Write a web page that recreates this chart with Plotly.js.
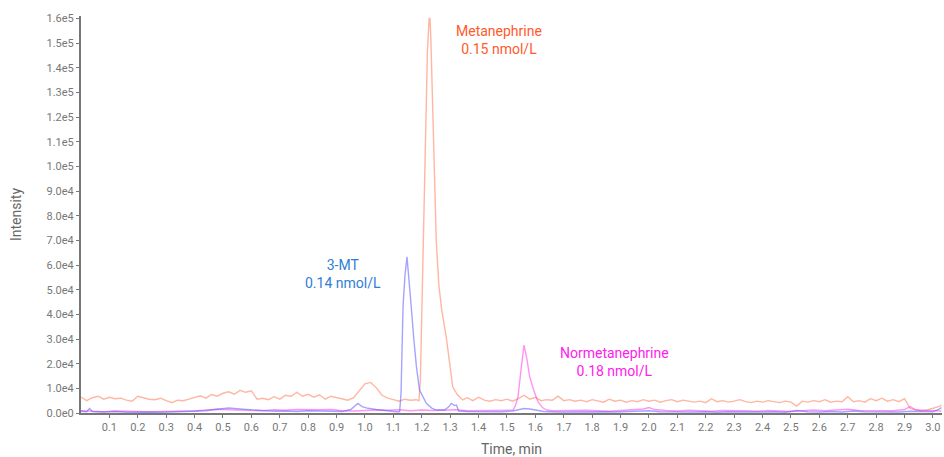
<!DOCTYPE html>
<html>
<head>
<meta charset="utf-8">
<script src="https://cdn.plot.ly/plotly-3.0.1.min.js"></script>
<style>html,body{margin:0;padding:0;background:#fff;}#chart{width:944px;height:457px;}</style>
</head>
<body>
<div id="chart"></div>
<script>
// Metanephrine (orange)
const metT = [0.00,0.02,0.04,0.06,0.08,0.10,0.12,0.14,0.16,0.18,0.20,0.22,0.24,0.26,0.28,0.30,0.32,0.34,0.36,0.38,0.40,0.42,0.44,0.46,0.48,0.50,0.52,0.54,0.56,0.58,0.60,0.62,0.64,0.66,0.68,0.70,0.72,0.74,0.76,0.78,0.80,0.82,0.84,0.86,0.88,0.90,0.92,0.94,0.96,0.98,1.00,1.02,1.04,1.06,1.08,1.10,1.12,1.14,1.16,1.18,
  1.19,1.195,1.200,1.204,1.210,1.215,1.220,1.226,1.229,1.232,1.237,1.242,1.251,1.260,1.270,1.286,1.298,1.309,1.325,1.344,
  1.36,1.38,1.40,1.42,1.44,1.46,1.48,1.50,1.52,1.54,1.56,1.58,1.60,1.62,1.64,1.66,1.68,1.70,1.72,1.74,1.76,1.78,1.80,1.82,1.84,1.86,1.88,1.90,1.92,1.94,1.96,1.98,2.00,2.02,2.04,2.06,2.08,2.10,2.12,2.14,2.16,2.18,2.20,2.22,2.24,2.26,2.28,2.30,2.32,2.34,2.36,2.38,2.40,2.42,2.44,2.46,2.48,2.50,2.52,2.54,2.56,2.58,2.60,2.62,2.64,2.66,2.68,2.70,2.72,2.74,2.76,2.78,2.80,2.82,2.84,2.86,2.88,2.90,2.92,2.94,2.96,2.98,3.00,3.02,3.03];
const metI = [6500,5000,6200,6800,5600,6400,5800,6000,5200,4800,6800,6200,5600,5400,6000,5000,4200,5200,5000,5600,6400,7000,6000,7500,6800,8000,8600,7600,9200,8400,9000,5600,6000,5400,6600,5600,7200,6800,8400,6800,7600,6400,7400,5600,6800,6200,5600,5200,6200,9000,11800,12400,10200,7200,6000,5400,4800,5600,5200,5400,
  5000,13000,40000,70000,100000,130000,147000,160000,160000,152000,132000,115000,70000,52000,42000,31000,19000,10600,7500,5300,
  6200,5000,6400,5200,4800,5400,5000,5600,4800,5800,7200,5600,6400,5000,5400,5200,6800,5000,5400,4800,5200,4600,5400,5000,4400,5600,4800,5200,4400,5000,4600,5400,4800,5200,4400,5000,5400,4600,5200,4800,4400,4800,4200,5800,4600,5000,4400,4800,5400,4600,4200,4800,4400,5000,4600,4200,4800,4400,2800,4800,4400,5000,4600,5400,4400,4800,4600,6600,4600,5000,4400,5800,5000,6000,4800,5400,4600,5800,1800,1400,800,1200,1800,2600,3200];

// 3-MT (blue)
const mtT = [0.00,0.02,0.03,0.04,0.08,0.12,0.16,0.20,0.24,0.28,0.32,0.36,0.40,0.44,0.48,0.52,0.56,0.60,0.64,0.68,0.72,0.76,0.80,0.84,0.88,0.92,0.95,0.975,0.99,1.01,1.04,1.08,1.11,1.122,1.127,1.134,1.141,1.148,1.155,1.163,1.172,1.181,1.192,1.205,1.216,1.235,1.251,1.28,1.295,1.304,1.315,1.322,1.33,1.36,1.40,1.44,1.48,1.52,1.54,1.56,1.58,1.60,1.63,1.68,1.72,1.76,1.80,1.84,1.88,1.92,1.96,2.00,2.04,2.08,2.12,2.16,2.20,2.24,2.28,2.32,2.36,2.40,2.44,2.48,2.52,2.56,2.60,2.64,2.68,2.72,2.76,2.80,2.84,2.88,2.92,2.96,3.00,3.02,3.03];
const mtI = [700,500,1800,600,400,600,300,500,400,300,500,400,700,900,1500,2000,1600,1200,900,700,800,600,900,700,800,600,1400,3900,2600,1900,1400,800,500,500,8000,43000,56000,63300,55000,43000,30000,19000,9300,6000,3900,2000,1200,1200,2500,3900,3000,3200,800,600,500,700,500,800,1400,1800,1600,1200,600,400,500,400,600,500,400,600,500,900,500,400,600,400,500,300,500,400,600,400,500,300,1000,500,400,600,400,800,500,400,600,400,700,500,500,1500,2200];

// Normetanephrine (pink)
const nmT = [0.00,0.04,0.08,0.12,0.16,0.20,0.24,0.28,0.32,0.36,0.40,0.44,0.48,0.52,0.56,0.60,0.64,0.68,0.72,0.76,0.80,0.84,0.88,0.92,0.96,1.00,1.04,1.08,1.12,1.16,1.20,1.24,1.28,1.32,1.36,1.40,1.44,1.48,1.51,1.521,1.53,1.539,1.55,1.56,1.57,1.58,1.595,1.609,1.625,1.639,1.66,1.70,1.74,1.78,1.82,1.86,1.90,1.94,1.98,2.00,2.02,2.06,2.10,2.14,2.18,2.22,2.26,2.30,2.34,2.38,2.42,2.46,2.50,2.54,2.58,2.62,2.66,2.70,2.74,2.78,2.82,2.86,2.90,2.92,2.94,2.98,3.03];
const nmI = [900,700,500,800,600,700,500,600,700,500,800,1200,1500,1300,1100,800,900,1300,1100,1400,1200,1300,1400,900,800,1000,1200,1100,1300,900,1200,1000,1100,1300,900,1000,1100,900,1000,1200,3000,6600,18000,27500,22000,14700,9000,4600,2200,1200,900,1000,800,1100,900,700,1000,1200,1600,2200,1400,1000,800,1100,900,700,1000,800,900,700,1000,800,600,900,1200,900,1100,1500,1000,900,1100,900,1400,2600,1200,900,800];

const xTickVals = [0.1,0.2,0.3,0.4,0.5,0.6,0.7,0.8,0.9,1.0,1.1,1.2,1.3,1.4,1.5,1.6,1.7,1.8,1.9,2.0,2.1,2.2,2.3,2.4,2.5,2.6,2.7,2.8,2.9,3.0];
const xTickText = ["0.1","0.2","0.3","0.4","0.5","0.6","0.7","0.8","0.9","1.0","1.1","1.2","1.3","1.4","1.5","1.6","1.7","1.8","1.9","2.0","2.1","2.2","2.3","2.4","2.5","2.6","2.7","2.8","2.9","3.0"];
const yTickVals = [0,10000,20000,30000,40000,50000,60000,70000,80000,90000,100000,110000,120000,130000,140000,150000,160000];
const yTickText = ["0.0e0","1.0e4","2.0e4","3.0e4","4.0e4","5.0e4","6.0e4","7.0e4","8.0e4","9.0e4","1.0e5","1.1e5","1.2e5","1.3e5","1.4e5","1.5e5","1.6e5"];

const labels = [
  {name: "Metanephrine", conc: "0.15 nmol/L", color: "#FF5A2C", x: 1.473, y: 151300},
  {name: "3-MT", conc: "0.14 nmol/L", color: "#2F7ED6", x: 0.924, y: 56400},
  {name: "Normetanephrine", conc: "0.18 nmol/L", color: "#FF20EC", x: 1.878, y: 20700}
];

const traces = [
  {x: metT, y: metI, type: "scatter", mode: "lines", name: "Metanephrine",
   line: {color: "rgba(255,110,70,0.5)", width: 1.4}},
  {x: nmT, y: nmI, type: "scatter", mode: "lines", name: "Normetanephrine",
   line: {color: "rgba(255,60,235,0.55)", width: 1.4}},
  {x: mtT, y: mtI, type: "scatter", mode: "lines", name: "3-MT",
   line: {color: "rgba(90,90,255,0.55)", width: 1.4}}
];

const layout = {
  width: 944, height: 457,
  margin: {l: 81, r: 2, t: 16, b: 44},
  paper_bgcolor: "#fff", plot_bgcolor: "#fff",
  showlegend: false,
  font: {family: "Roboto, 'Noto Sans', sans-serif", color: "#777"},
  xaxis: {
    range: [0, 3.032], showgrid: false, zeroline: false,
    showline: true, linecolor: "#777", linewidth: 2,
    ticks: "outside", ticklen: 3, tickcolor: "#777", tickwidth: 1,
    tickvals: xTickVals, ticktext: xTickText,
    tickfont: {size: 11, color: "#777"},
    title: {text: "Time, min", font: {size: 14, color: "#666"}, standoff: 12}
  },
  yaxis: {
    range: [0, 161000], showgrid: false, zeroline: false,
    showline: true, linecolor: "#777", linewidth: 2,
    ticks: "outside", ticklen: 3, tickcolor: "#777", tickwidth: 1,
    tickvals: yTickVals, ticktext: yTickText,
    tickfont: {size: 11, color: "#777"},
    title: {text: "Intensity", font: {size: 14, color: "#666"}, standoff: 22}
  },
  annotations: labels.map(l => ({
    x: l.x, y: l.y, xref: "x", yref: "y", showarrow: false,
    text: l.name + "<br>" + l.conc, align: "center",
    font: {size: 14, color: l.color}
  }))
};

Plotly.newPlot("chart", traces, layout, {staticPlot: true, displayModeBar: false});
</script>
</body>
</html>
